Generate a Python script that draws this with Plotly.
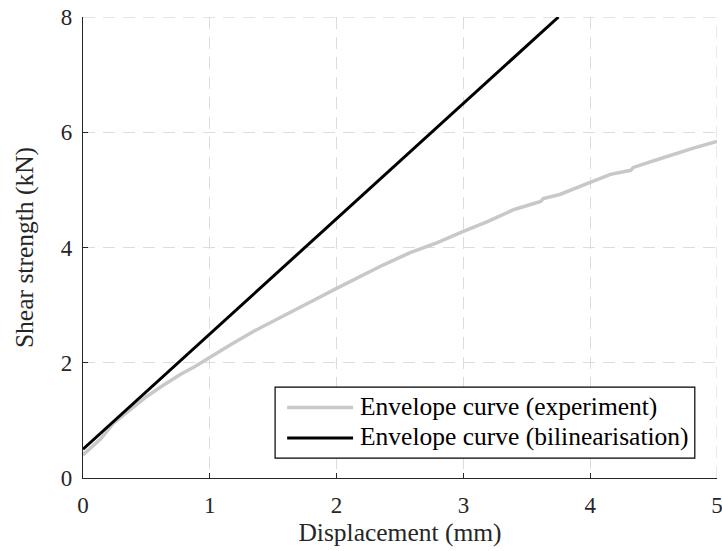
import plotly.graph_objects as go

# Experimental envelope curve: displacement (mm) vs shear strength (kN)
exp_disp = [0.0, 0.07, 0.14, 0.24, 0.37, 0.50, 0.64, 0.77, 0.88, 0.99, 1.16,
            1.35, 1.53, 1.66, 1.85, 2.00, 2.19, 2.37, 2.58, 2.79, 3.00, 3.19,
            3.40, 3.61, 3.63, 3.76, 3.99, 4.16, 4.32, 4.34, 4.55, 4.82, 5.00]
exp_force = [0.40, 0.55, 0.68, 0.95, 1.18, 1.41, 1.62, 1.80, 1.93, 2.08, 2.31,
             2.55, 2.76, 2.90, 3.12, 3.29, 3.50, 3.70, 3.91, 4.08, 4.28, 4.45,
             4.66, 4.80, 4.85, 4.92, 5.12, 5.27, 5.34, 5.39, 5.54, 5.73, 5.84]

# Bilinearised envelope (first branch)
bil_disp = [0.0, 3.75]
bil_force = [0.5, 8.0]

series_names = ["Envelope curve (experiment)", "Envelope curve (bilinearisation)"]
series_colors = ["#c8c8c8", "#000000"]
series_widths = [3.5, 3]

x_ticks = [0, 1, 2, 3, 4, 5]
y_ticks = [0, 2, 4, 6, 8]
x_range = [0, 5]
y_range = [0, 8]

FONT = "Liberation Serif, Times New Roman, serif"
AXIS_COLOR = "#262626"
GRID_COLOR = "#dcdcdc"
GRID_DASH = "12px,8px"

fig = go.Figure()
for xs, ys, name, color, width in zip([exp_disp, bil_disp], [exp_force, bil_force],
                                      series_names, series_colors, series_widths):
    fig.add_trace(go.Scatter(x=xs, y=ys, mode="lines", name=name,
                             line=dict(color=color, width=width), showlegend=False))

axis_common = dict(
    showline=True, linecolor=AXIS_COLOR, linewidth=1.3,
    ticks="inside", ticklen=5, tickwidth=1.2, tickcolor=AXIS_COLOR,
    showgrid=True, gridcolor=GRID_COLOR, gridwidth=1.3, griddash=GRID_DASH,
    zeroline=False, mirror=False, automargin=False,
    tickfont=dict(family=FONT, size=23, color=AXIS_COLOR),
)

fig.update_xaxes(
    range=x_range, tickvals=x_ticks, ticktext=[str(v) for v in x_ticks],
    ticklabeloverflow="allow", ticklabelstandoff=6,
    title=dict(text="Displacement (mm)", font=dict(family=FONT, size=25.5, color=AXIS_COLOR),
               standoff=2),
    **axis_common,
)
fig.update_yaxes(
    range=y_range, tickvals=y_ticks, ticktext=[str(v) for v in y_ticks],
    ticklabelstandoff=5,
    title=dict(text="Shear strength (kN)", font=dict(family=FONT, size=25.5, color=AXIS_COLOR),
               standoff=19),
    **axis_common,
)

# gridlines along the far edges of the axes box
fig.add_shape(type="line", xref="x", yref="y", x0=x_range[1], x1=x_range[1],
              y0=y_range[0], y1=y_range[1],
              line=dict(color=GRID_COLOR, width=1.3, dash=GRID_DASH), layer="below")
fig.add_shape(type="line", xref="x", yref="y", x0=x_range[0], x1=x_range[1],
              y0=y_range[1], y1=y_range[1],
              line=dict(color=GRID_COLOR, width=1.3, dash=GRID_DASH), layer="below")

# legend box with line samples
leg_x0, leg_x1, leg_y0, leg_y1 = 0.303, 0.965, 0.043, 0.197
row_y = [0.153, 0.087]
fig.add_shape(type="rect", xref="paper", yref="paper",
              x0=leg_x0, x1=leg_x1, y0=leg_y0, y1=leg_y1,
              line=dict(color="#000000", width=1.2), fillcolor="white", layer="above")
for ry, name, color, width in zip(row_y, series_names, series_colors, series_widths):
    fig.add_shape(type="line", xref="paper", yref="paper",
                  x0=0.322, x1=0.426, y0=ry, y1=ry,
                  line=dict(color=color, width=width), layer="above")
    fig.add_annotation(xref="paper", yref="paper", x=0.433, y=ry + 0.002,
                       xanchor="left", yanchor="middle", showarrow=False,
                       text=name, font=dict(family=FONT, size=25.5, color="#000000"))

fig.update_layout(
    width=722, height=551,
    margin=dict(l=83, r=5, t=17, b=73),
    paper_bgcolor="white", plot_bgcolor="white",
)

fig.write_html("out.html")
